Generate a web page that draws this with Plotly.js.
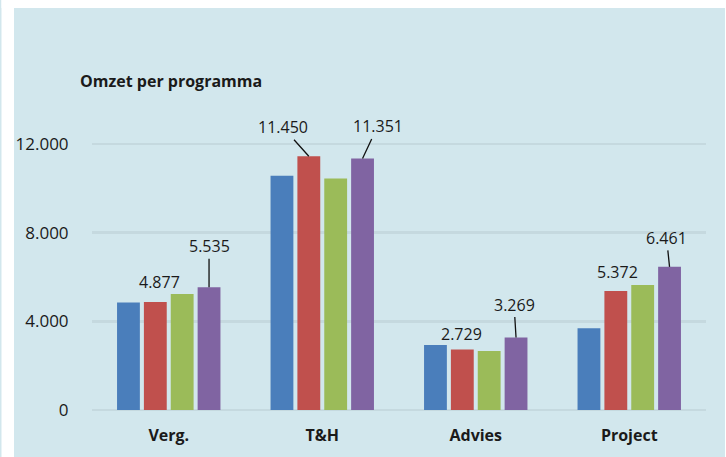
<!DOCTYPE html>
<html>
<head>
<meta charset="utf-8">
<script src="https://cdn.plot.ly/plotly-3.0.1.min.js"></script>
<style>html,body{margin:0;padding:0;background:#fff;}#chart{width:726px;height:457px;}</style>
</head>
<body>
<div id="chart"></div>
<script>
// ---- data ----
const categories = ['Verg.', 'T&H', 'Advies', 'Project'];
const series1 = [4850, 10570, 2930, 3690];   // blue
const series2 = [4877, 11450, 2729, 5372];   // red
const series3 = [5230, 10450, 2660, 5640];   // green
const series4 = [5535, 11351, 3269, 6461];   // purple
const yTickVals = [0, 4000, 8000, 12000];
const yTickText = ['0', '4.000', '8.000', '12.000'];
const chartTitle = 'Omzet per programma';

// ---- style ----
const colors = ['#4a7ebb', '#c0504d', '#9bbb59', '#8064a2'];
const bg = '#d2e7ed';
const gridColor = '#c5d9df';
const textColor = '#1a1a1a';
const font = 'Open Sans, Noto Sans, sans-serif';

const allSeries = [series1, series2, series3, series4];
const traces = allSeries.map((vals, j) => ({
  type: 'bar', x: categories, y: vals, name: 's' + (j + 1),
  marker: {color: colors[j]}, hoverinfo: 'skip'
}));

function fmt(v) {
  const s = String(Math.round(v));
  return s.replace(/\B(?=(\d{3})+(?!\d))/g, '.');
}

const W = 726, H = 457, ml = 92, mr = 20, mt = 133, mb = 47;
const pw = W - ml - mr, ph = H - mt - mb;
const px2x = p => (p - ml) / pw;
const py2y = p => (H - mb - p) / ph;

const bargap = 0.3;
const slot = (1 - bargap) / 4;
const offsetOf = j => (j - 1.5) * slot;

// labels: [series index, category index, ax, ay, leader line]
const labelSpecs = [
  [1, 0, 4, -20, false],
  [3, 0, 0, -41, true],
  [1, 1, -26, -29, true],
  [3, 1, 15, -32, true],
  [1, 2, -1, -16, false],
  [3, 2, -2, -33, true],
  [1, 3, 2, -19, false],
  [3, 3, -3, -29, true]
];
const annotations = labelSpecs.map(([s, c, ax, ay, line]) => ({
  x: c + offsetOf(s), y: allSeries[s][c], xref: 'x', yref: 'y',
  text: fmt(allSeries[s][c]),
  showarrow: true, arrowhead: 0, arrowwidth: 1.3,
  arrowcolor: line ? '#111' : 'rgba(0,0,0,0)',
  standoff: 0, ax: ax, ay: ay,
  font: {family: font, size: 16, color: textColor}
}));

const shapes = [
  {type: 'rect', xref: 'paper', yref: 'paper', layer: 'above',
   x0: px2x(1.5), x1: px2x(14), y0: py2y(H), y1: py2y(0),
   fillcolor: '#ffffff', line: {width: 0}},
  {type: 'rect', xref: 'paper', yref: 'paper', layer: 'above',
   x0: px2x(1.5), x1: px2x(W), y0: py2y(8), y1: py2y(0),
   fillcolor: '#ffffff', line: {width: 0}},
  {type: 'rect', xref: 'paper', yref: 'paper', layer: 'above',
   x0: px2x(725), x1: px2x(W), y0: py2y(H), y1: py2y(0),
   fillcolor: '#ffffff', line: {width: 0}}
];

const layout = {
  width: W, height: H,
  margin: {l: ml, r: mr, t: mt, b: mb, pad: 0},
  paper_bgcolor: bg, plot_bgcolor: bg,
  barmode: 'group', bargap: bargap, bargroupgap: 0.15,
  showlegend: false,
  title: {text: '<b>' + chartTitle + '</b>', x: 80 / W, xanchor: 'left', xref: 'container',
          y: 1 - 81 / H, yanchor: 'middle', yref: 'container',
          font: {family: font, size: 16, color: textColor}},
  xaxis: {type: 'category', showgrid: false, zeroline: false, showline: false,
          ticks: 'outside', ticklen: 11, tickcolor: 'rgba(0,0,0,0)',
          tickfont: {family: font, size: 16, color: textColor},
          ticktext: categories.map(c => '<b>' + c + '</b>'), tickvals: categories},
  yaxis: {range: [0, 12500], tickvals: yTickVals, ticktext: yTickText,
          showgrid: true, gridcolor: gridColor, gridwidth: 2.5,
          zeroline: true, zerolinecolor: gridColor, zerolinewidth: 2.5, showline: false,
          ticks: 'outside', ticklen: 19, tickcolor: 'rgba(0,0,0,0)',
          tickfont: {family: font, size: 17, color: textColor}},
  shapes: shapes,
  annotations: annotations
};

Plotly.newPlot('chart', traces, layout, {displayModeBar: false, staticPlot: true});
</script>
</body>
</html>
